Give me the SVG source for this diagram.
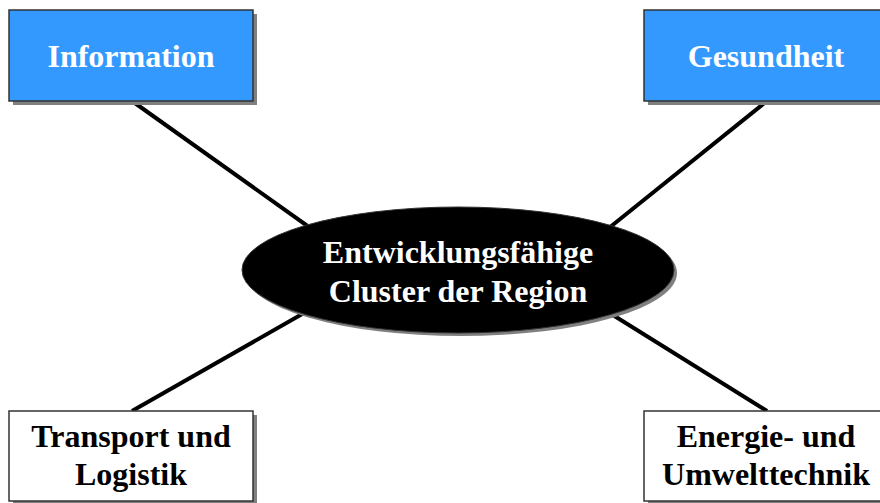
<svg xmlns="http://www.w3.org/2000/svg" width="880" height="503" viewBox="0 0 880 503">
<style>
.shadow{fill:#808080;stroke:none}
.blue{fill:#3399FF;stroke:#333333;stroke-width:1.5}
.white{fill:#FFFFFF;stroke:#333333;stroke-width:1.5}
.t{font-family:'Liberation Serif','Times New Roman',serif;font-weight:bold;font-size:32px;text-anchor:middle}
.tw{fill:#FFFFFF}
.tb{fill:#000000}
.conn{stroke:#000000;stroke-width:4;fill:none}
</style>
<rect width="880" height="503" fill="#FFFFFF"/>
<g id="connectors">
<line class="conn" x1="132" y1="101" x2="323" y2="237"/>
<line class="conn" x1="767" y1="101" x2="594" y2="240"/>
<line class="conn" x1="132" y1="411" x2="318" y2="305"/>
<line class="conn" x1="767" y1="411" x2="600" y2="307"/>
</g>
<g id="center">
<ellipse class="shadow" cx="461" cy="273" rx="216" ry="63"/>
<ellipse cx="458" cy="270" rx="216" ry="63" fill="#000000" stroke="#333333" stroke-width="1"/>
<text class="t tw" x="458" y="263">Entwicklungsfähige</text>
<text class="t tw" x="458" y="302">Cluster der Region</text>
</g>
<g id="information">
<rect class="shadow" x="13" y="14" width="244" height="91"/>
<rect class="blue" x="9" y="10" width="244" height="91"/>
<text class="t tw" x="131" y="67">Information</text>
</g>
<g id="gesundheit">
<rect class="shadow" x="648" y="14" width="244" height="91"/>
<rect class="blue" x="644" y="10" width="244" height="91"/>
<text class="t tw" x="766" y="67">Gesundheit</text>
</g>
<g id="transport">
<rect class="shadow" x="13" y="415" width="244" height="91"/>
<rect class="white" x="9" y="411" width="244" height="90"/>
<text class="t tb" x="131" y="447">Transport und</text>
<text class="t tb" x="131" y="485">Logistik</text>
</g>
<g id="energie">
<rect class="shadow" x="648" y="415" width="244" height="91"/>
<rect class="white" x="644" y="411" width="244" height="90"/>
<text class="t tb" x="766" y="447">Energie- und</text>
<text class="t tb" x="766" y="485">Umwelttechnik</text>
</g>
</svg>
